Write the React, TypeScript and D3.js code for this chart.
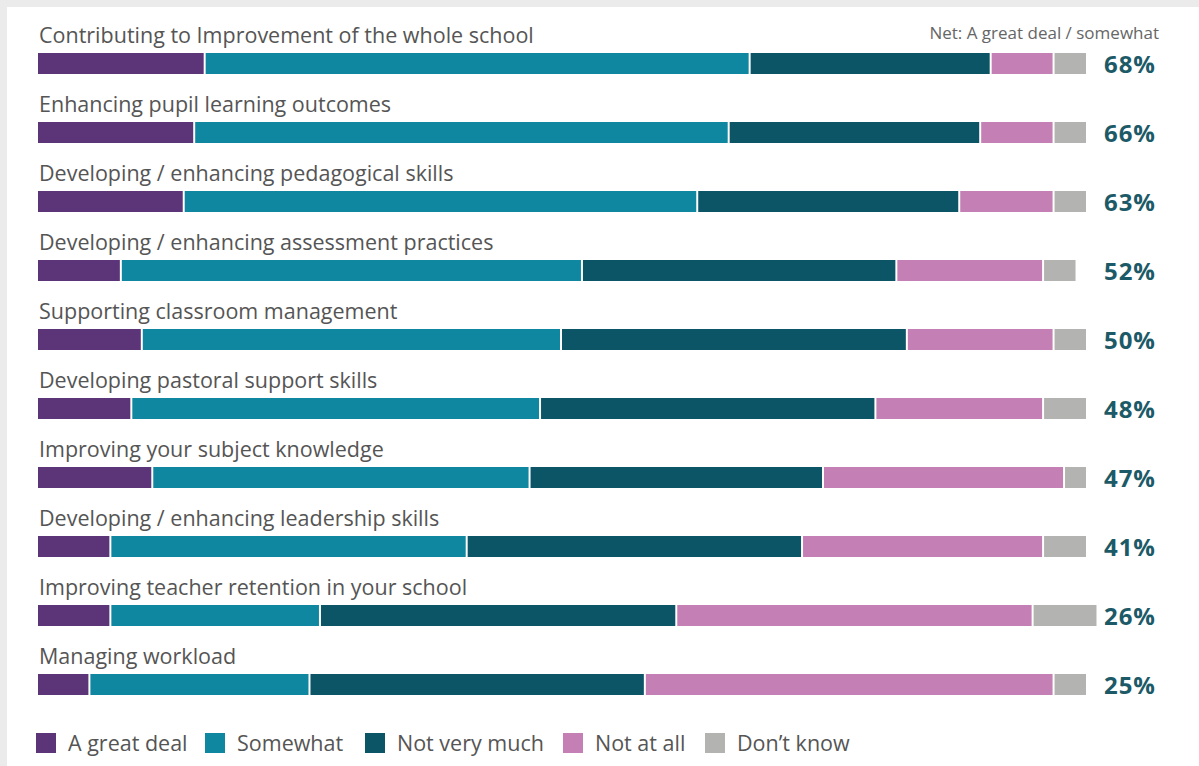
import React from "react";
import * as d3 from "d3";

const categories = [
  "Contributing to Improvement of the whole school",
  "Enhancing pupil learning outcomes",
  "Developing / enhancing pedagogical skills",
  "Developing / enhancing assessment practices",
  "Supporting classroom management",
  "Developing pastoral support skills",
  "Improving your subject knowledge",
  "Developing / enhancing leadership skills",
  "Improving teacher retention in your school",
  "Managing workload",
];
const greatDeal = [16, 15, 14, 8, 10, 9, 11, 7, 7, 5];
const somewhat = [52, 51, 49, 44, 40, 39, 36, 34, 20, 21];
const notVeryMuch = [23, 24, 25, 30, 33, 32, 28, 32, 34, 32];
const notAtAll = [6, 7, 9, 14, 14, 16, 23, 23, 34, 39];
const dontKnow = [3, 3, 3, 3, 3, 4, 2, 4, 6, 3];
const netLabels = ["68%", "66%", "63%", "52%", "50%", "48%", "47%", "41%", "26%", "25%"];
const seriesNames = ["A great deal", "Somewhat", "Not very much", "Not at all", "Don\u2019t know"];
const seriesColors = ["#5b3577", "#0f87a0", "#0b5566", "#c47fb5", "#b3b3b1"];

export default function App() {
  const W = 1199, H = 766;
  const left = 38;
  const x = d3.scaleLinear().domain([0, 100]).range([0, 1048]);
  const y = d3.scaleBand<number>().domain(d3.range(categories.length)).range([53, 53 + 69 * categories.length]).paddingInner(0);
  const barH = 21;
  const series = [greatDeal, somewhat, notVeryMuch, notAtAll, dontKnow];
  const font = "'Open Sans', 'Noto Sans', sans-serif";
  const legendX = [36, 205, 365, 563, 705];

  return (
    <svg width={W} height={H} style={{ position: "absolute", left: 0, top: 0 }} fontFamily={font}>
      <rect x={0} y={0} width={W} height={H} fill="#ebebeb" />
      <rect x={7} y={7} width={W - 7} height={H - 7} fill="#ffffff" />
      <text x={1159} y={39} textAnchor="end" fontSize={17} fill="#666">Net: A great deal / somewhat</text>
      {categories.map((c, i) => {
        const top = y(i)!;
        let acc = 0;
        return (
          <g key={c}>
            <text x={left + 1} y={top - 10} fontSize={21.5} fill="#555">{c}</text>
            {series.map((s, k) => {
              const x0 = x(acc);
              acc += s[i];
              const x1 = x(acc);
              return (
                <rect key={k} x={left + x0} y={top} width={Math.max(0, x1 - x0 - (k < series.length - 1 ? 2 : 0))} height={barH} fill={seriesColors[k]} />
              );
            })}
            <text x={1156} y={top + 20} textAnchor="end" fontSize={24} fontWeight={700} letterSpacing={1} fill="#1d5a67">{netLabels[i]}</text>
          </g>
        );
      })}
      {seriesNames.map((n, k) => (
        <g key={n}>
          <rect x={legendX[k]} y={733} width={20} height={20} fill={seriesColors[k]} />
          <text x={legendX[k] + 32} y={751} fontSize={21.5} fill="#555">{n}</text>
        </g>
      ))}
    </svg>
  );
}
